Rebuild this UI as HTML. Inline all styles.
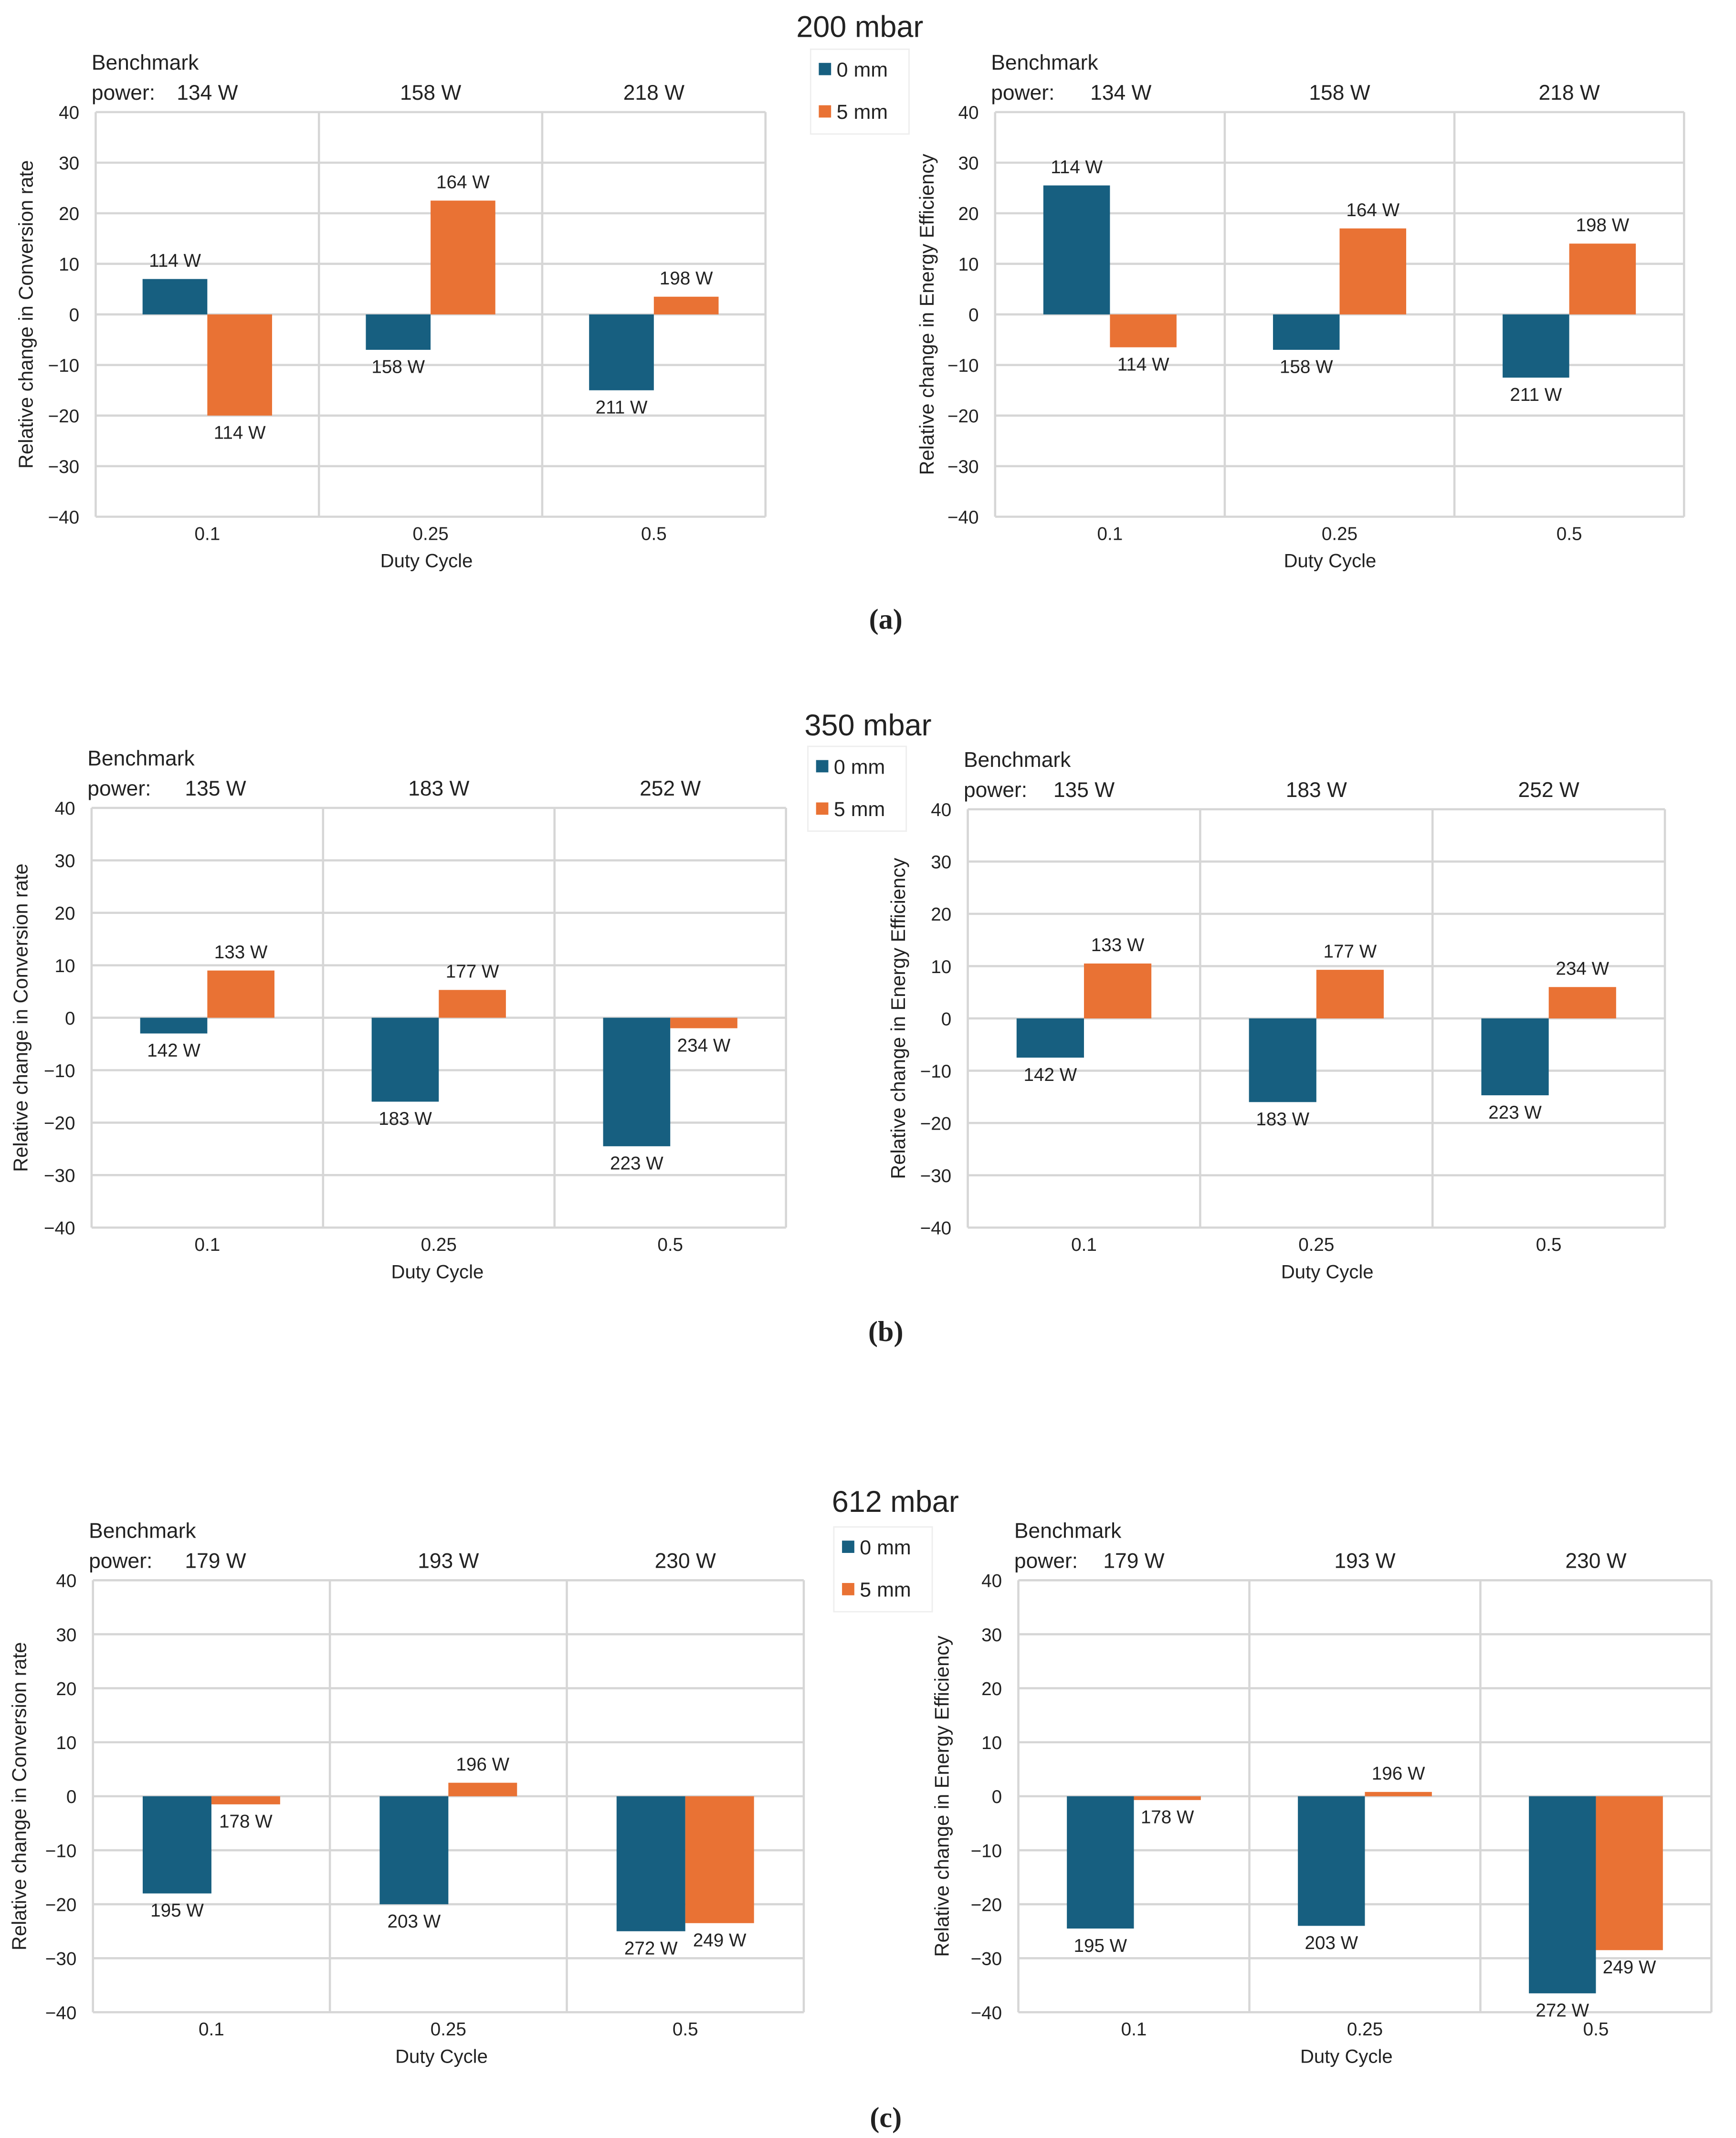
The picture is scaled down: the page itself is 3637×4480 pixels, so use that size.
<!DOCTYPE html>
<html><head><meta charset="utf-8">
<style>
html,body{margin:0;padding:0;background:#fff;}
svg{display:block;}
text{font-family:"Liberation Sans",sans-serif;fill:#222;}
</style></head>
<body>
<svg id="fig" width="3637" height="4480" viewBox="0 0 1270 1564" preserveAspectRatio="none" xmlns="http://www.w3.org/2000/svg">
<g id="root"></g>
</svg>
<script>
// ---- data ----
const categories = ["0.1","0.25","0.5"];
const yTicks = [40,30,20,10,0,-10,-20,-30,-40];
const aCR_blue = [7,-7,-15];
const aCR_orange = [-20,22.5,3.5];
const aCR_blueLbl = ["114 W","158 W","211 W"];
const aCR_orangeLbl = ["114 W","164 W","198 W"];
const aEE_blue = [25.5,-7,-12.5];
const aEE_orange = [-6.5,17,14];
const aEE_blueLbl = ["114 W","158 W","211 W"];
const aEE_orangeLbl = ["114 W","164 W","198 W"];
const aBench = ["134 W","158 W","218 W"];
const bCR_blue = [-3,-16,-24.5];
const bCR_orange = [9,5.3,-2];
const bCR_blueLbl = ["142 W","183 W","223 W"];
const bCR_orangeLbl = ["133 W","177 W","234 W"];
const bEE_blue = [-7.5,-16,-14.7];
const bEE_orange = [10.5,9.3,6];
const bEE_blueLbl = ["142 W","183 W","223 W"];
const bEE_orangeLbl = ["133 W","177 W","234 W"];
const bBench = ["135 W","183 W","252 W"];
const cCR_blue = [-18,-20,-25];
const cCR_orange = [-1.5,2.5,-23.5];
const cCR_blueLbl = ["195 W","203 W","272 W"];
const cCR_orangeLbl = ["178 W","196 W","249 W"];
const cEE_blue = [-24.5,-24,-36.5];
const cEE_orange = [-0.7,0.8,-28.5];
const cEE_blueLbl = ["195 W","203 W","272 W"];
const cEE_orangeLbl = ["178 W","196 W","249 W"];
const cBench = ["179 W","193 W","230 W"];

const NS="http://www.w3.org/2000/svg";
const root=document.getElementById('root');
function mk(tag,attrs,parent,txt){const e=document.createElementNS(NS,tag);for(const k in attrs)e.setAttribute(k,attrs[k]);if(txt!==undefined)e.textContent=txt;(parent||root).appendChild(e);return e;}

function chart(cfg){
  const g=mk('g',{});
  
  
  const {x0,x1,y0,y1}=cfg;
  const ys=v=>y0+(40-v)*(y1-y0)/80;
  const cw=(x1-x0)/categories.length;
  yTicks.forEach(t=>{
    const l=mk('line',{x1:x0,x2:x1,y1:ys(t),y2:ys(t),stroke:'#d6d6d6','stroke-width':1.6},g);
    
    
    const tx=mk('text',{x:x0-12,y:ys(t)+5,'text-anchor':'end','font-size':13.5},g,t<0?'\u2212'+(-t):String(t));
    
    
  });
  for(let i=0;i<=categories.length;i++){
    const l=mk('line',{x1:x0+i*cw,x2:x0+i*cw,y1:y0,y2:y1,stroke:'#d6d6d6','stroke-width':1.6},g);
    
    
  }
  const bw=cw*0.29, off=(cw-2*bw)/2;
  categories.forEach((c,i)=>{
    const cx=x0+i*cw;
    [[cfg.blue,cfg.blueLbl,'#175f80',0],[cfg.orange,cfg.orangeLbl,'#e97234',1]].forEach(([vals,lbls,col,k])=>{
      const v=vals[i];
      const bx=cx+off+k*bw;
      const top=Math.min(ys(v),ys(0)), h=Math.abs(ys(v)-ys(0));
      const r=mk('rect',{x:bx,y:top,width:bw,height:h,fill:col},g);
      
      
      const ly=v>=0?ys(v)-9:ys(v)+17;
      const t=mk('text',{x:bx+bw/2,y:ly,'text-anchor':'middle','font-size':13.5},g,lbls[i]);
      
      
    });
    const xl=mk('text',{x:cx+cw/2,y:y1+17,'text-anchor':'middle','font-size':13.5},g,c);
    
    
    const bl=mk('text',{x:cx+cw/2+(i==0?cfg.b0dx:0),y:y0-9,'text-anchor':'middle','font-size':15.5},g,cfg.bench[i]);
    
    
  });
  const b1=mk('text',{x:x0-3,y:y0-31,'font-size':15.5},g,'Benchmark');
  
  
  const b2=mk('text',{x:x0-3,y:y0-9,'font-size':15.5},g,'power:');
  
  
  const xt=mk('text',{x:cfg.xtx,y:y1+37,'text-anchor':'middle','font-size':14},g,'Duty Cycle');
  
  
  const yc=(y0+y1)/2;
  const yt=mk('text',{x:cfg.ytx,y:yc,'text-anchor':'middle','font-size':14.5,transform:`rotate(-90 ${cfg.ytx} ${yc})`},g,cfg.ytitle);
  
  
}
function header(title,tx,ty,lx,ly,lbl,lblx,lbly){
  const t=mk('text',{x:tx,y:ty,'text-anchor':'middle','font-size':22},root,title);
  
  
  const lg=mk('g',{});
  
  
  mk('rect',{x:lx,y:ly,width:72,height:62,fill:'none',stroke:'#eeeeee'},lg);
  [['#175f80','0 mm',0],['#e97234','5 mm',1]].forEach(([c,s,k])=>{
    const r=mk('rect',{x:lx+6,y:ly+10+k*31,width:9,height:9,fill:c},lg);
    
    
    const tt=mk('text',{x:lx+19,y:ly+20+k*31,'font-size':15},lg,s);
    
    
  });
  const p=mk('text',{x:lblx,y:lbly,'text-anchor':'middle','font-size':21,'font-weight':'bold',style:'font-family:"Liberation Serif",serif'},root,lbl);
  
  
}
const CR='Relative change in Conversion rate', EE='Relative change in Energy Efficiency';
header('200 mbar',629,27,593,36,'(a)',648,460);
chart({name:'chart-a-conversion',x0:70,x1:560,y0:82,y1:378,blue:aCR_blue,orange:aCR_orange,blueLbl:aCR_blueLbl,orangeLbl:aCR_orangeLbl,bench:aBench,b0dx:0,xtx:312,ytx:24,ytitle:CR});
chart({name:'chart-a-efficiency',x0:728,x1:1232,y0:82,y1:378,blue:aEE_blue,orange:aEE_orange,blueLbl:aEE_blueLbl,orangeLbl:aEE_orangeLbl,bench:aBench,b0dx:8,xtx:973,ytx:683,ytitle:EE});
header('350 mbar',635,538,591,546,'(b)',648,981);
chart({name:'chart-b-conversion',x0:67,x1:575,y0:591,y1:898,blue:bCR_blue,orange:bCR_orange,blueLbl:bCR_blueLbl,orangeLbl:bCR_orangeLbl,bench:bBench,b0dx:6,xtx:320,ytx:20,ytitle:CR});
chart({name:'chart-b-efficiency',x0:708,x1:1218,y0:592,y1:898,blue:bEE_blue,orange:bEE_orange,blueLbl:bEE_blueLbl,orangeLbl:bEE_orangeLbl,bench:bBench,b0dx:0,xtx:971,ytx:662,ytitle:EE});
header('612 mbar',655,1106,610,1117,'(c)',648,1556);
chart({name:'chart-c-conversion',x0:68,x1:588,y0:1156,y1:1472,blue:cCR_blue,orange:cCR_orange,blueLbl:cCR_blueLbl,orangeLbl:cCR_orangeLbl,bench:cBench,b0dx:3,xtx:323,ytx:19,ytitle:CR});
chart({name:'chart-c-efficiency',x0:745,x1:1252,y0:1156,y1:1472,blue:cEE_blue,orange:cEE_orange,blueLbl:cEE_blueLbl,orangeLbl:cEE_orangeLbl,bench:cBench,b0dx:0,xtx:985,ytx:694,ytitle:EE});
</script>
</body></html>
